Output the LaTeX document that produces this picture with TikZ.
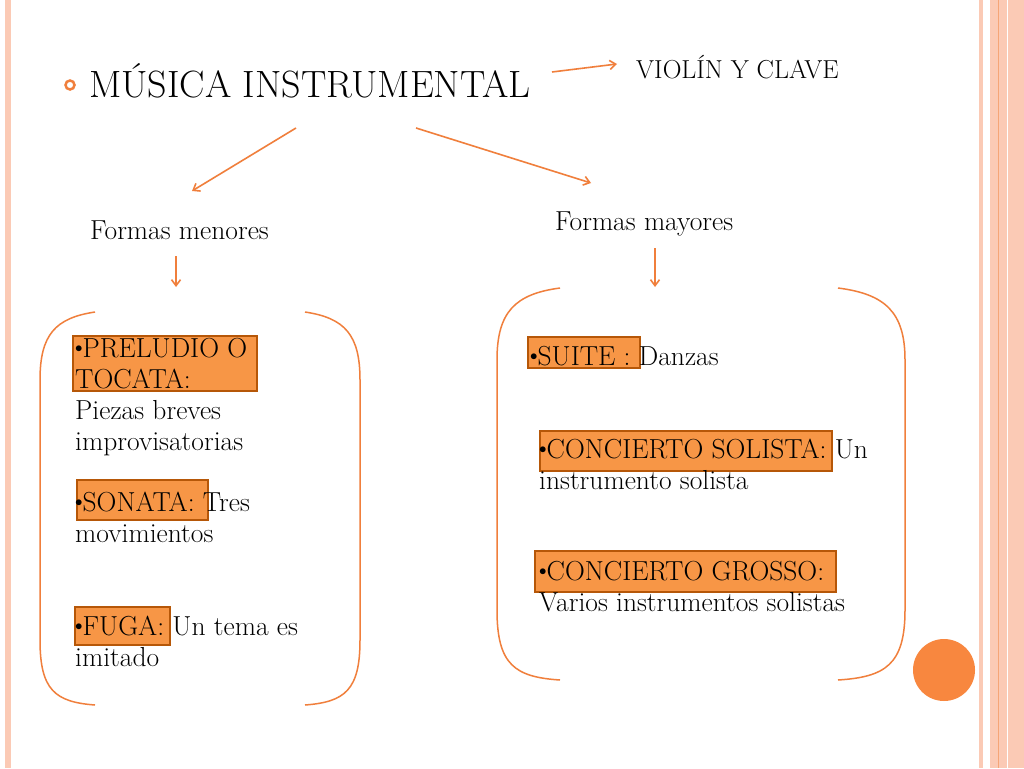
\documentclass[tikz,border=0pt]{standalone}
\usetikzlibrary{arrows.meta}
\definecolor{org}{HTML}{F07F3C}
\definecolor{hl}{HTML}{F79646}
\definecolor{hld}{HTML}{B65708}
\definecolor{stripe}{HTML}{FBCAB5}
\newcommand{\bul}{\raisebox{0.15em}{\scalebox{0.6}{$\bullet$}}}
\begin{document}
\begin{tikzpicture}[x=1pt,y=-1pt,
  arr/.style={draw=org,line width=1.6pt,-{Straight Barb[length=6pt,width=9pt]}},
  brk/.style={draw=org,line width=1.5pt},
  hlbox/.style={fill=hl,draw=hld,line width=1.8pt},
  txt/.style={anchor=base west,inner sep=0pt,font=\fontsize{27.5}{31}\selectfont}]
\useasboundingbox (0,0) rectangle (1024,768);
\fill[white] (0,0) rectangle (1024,768);
% stripes
\fill[stripe] (5,0) rectangle (11,768);
\fill[stripe] (979,0) rectangle (983,768);
\fill[stripe] (990,0) rectangle (1007,768);
\draw[org!70,line width=0.8pt] (998.5,0) -- (998.5,768);
\fill[stripe] (1008,0) rectangle (1024,768);
% bullet
\draw[org,line width=2.5pt] (70,85) circle (4.5);
% highlight boxes
\draw[hlbox] (73,336) rectangle (257,391);
\draw[hlbox] (77,480) rectangle (208,520);
\draw[hlbox] (75,607) rectangle (170,645);
\draw[hlbox] (528,337) rectangle (640,368);
\draw[hlbox] (540,431) rectangle (832,471);
\draw[hlbox] (535,551) rectangle (836,592);
% texts
\node[txt,font=\fontsize{38}{44}\selectfont] (title) at (89,97) {MÚSICA INSTRUMENTAL};
\node[txt,font=\fontsize{26}{30}\selectfont] (vc) at (636,78) {VIOLÍN Y CLAVE};
\node[txt] (fmen) at (90,239) {Formas menores};
\node[txt] (fmay) at (555,230) {Formas mayores};
\node[txt] (p1) at (75,357) {\bul PRELUDIO O};
\node[txt] (p2) at (75,388) {TOCATA:};
\node[txt] (p3) at (75,419) {Piezas breves};
\node[txt] (p4) at (75,450) {improvisatorias};
\node[txt] (s1) at (75,511) {\bul SONATA: Tres};
\node[txt] (s2) at (75,542) {movimientos};
\node[txt] (f1) at (75,635) {\bul FUGA: Un tema es};
\node[txt] (f2) at (75,666) {imitado};
\node[txt] (su) at (530,365) {\bul SUITE : Danzas};
\node[txt] (c1) at (539,458) {\bul CONCIERTO SOLISTA: Un};
\node[txt] (c2) at (539,489) {instrumento solista};
\node[txt] (g1) at (539,580) {\bul CONCIERTO GROSSO:};
\node[txt] (g2) at (539,611) {Varios instrumentos solistas};
% arrows
\coordinate (a1) at (552,72); \coordinate (a1e) at (617,64);
\coordinate (a2) at (296,128); \coordinate (a2e) at (192,191);
\coordinate (a3) at (416,128); \coordinate (a3e) at (591,183);
\coordinate (a4) at (176,256); \coordinate (a4e) at (176,287);
\coordinate (a5) at (655,248); \coordinate (a5e) at (655,287);
\draw[arr] (a1) -- (a1e);
\draw[arr] (a2) -- (a2e);
\draw[arr] (a3) -- (a3e);
\draw[arr] (a4) -- (a4e);
\draw[arr] (a5) -- (a5e);
% brackets
\draw[brk] (95,312) .. controls (55,318) and (40,335) .. (40,380) -- (40,640) .. controls (40,690) and (55,702) .. (95,705);
\draw[brk] (305,312) .. controls (345,318) and (360,335) .. (360,380) -- (360,640) .. controls (360,690) and (345,702) .. (305,705);
\draw[brk] (560,288) .. controls (515,294) and (497,312) .. (497,360) -- (497,610) .. controls (497,665) and (515,677) .. (560,680);
\draw[brk] (838,288) .. controls (885,294) and (905,312) .. (905,360) -- (905,610) .. controls (905,665) and (885,677) .. (838,680);
% circle
\fill[hl!90!red] (944,670) circle (31);
\end{tikzpicture}
\end{document}
